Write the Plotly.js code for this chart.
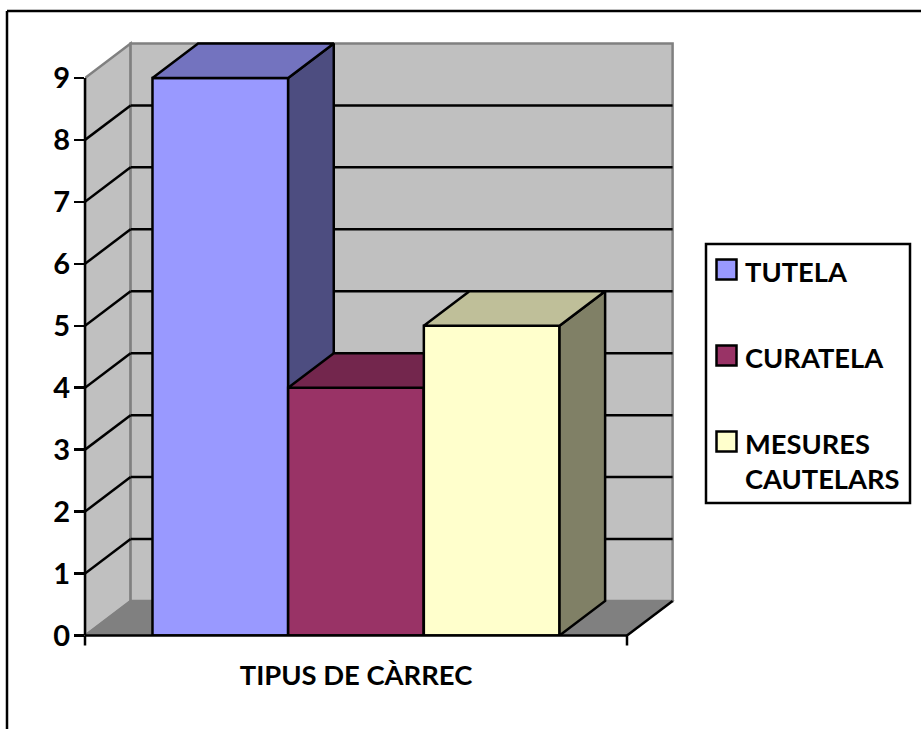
<!DOCTYPE html>
<html>
<head>
<meta charset="utf-8">
<script src="https://cdn.plot.ly/plotly-3.0.1.min.js"></script>
<style>html,body{margin:0;padding:0;background:#fff;overflow:hidden}</style>
</head>
<body>
<div id="chart" style="width:921px;height:729px"></div>
<script>
const categoryLabel = "TIPUS DE CÀRREC";
const seriesNames = ["TUTELA", "CURATELA", "MESURES<br>CAUTELARS"];
const seriesValues = [9, 4, 5];
const frontColors = ["#9999FF", "#993366", "#FFFFCC"];
const topColors = ["#7373BF", "#73264D", "#BFBF99"];
const sideColors = ["#4D4D80", "#4D1A33", "#808066"];
const yTicks = [0, 1, 2, 3, 4, 5, 6, 7, 8, 9];

const FONT = "Lato, Carlito, 'Open Sans', sans-serif";
const W = 921, H = 729;
const M = {l: 85, r: 241, t: 40, b: 93};
const plotW = W - M.l - M.r, plotH = H - M.t - M.b;
const unitX = 542, unitY = 61.95;           // pixels per x-unit / per y-unit
const dx = 45.6 / unitX, dy = 34.5 / unitY; // 3-D depth in data units
const gap = 0.1245, barW = (1 - 2 * gap) / seriesValues.length;
const yMax = yTicks[yTicks.length - 1];
const xRange = [0, plotW / unitX];
const yRange = [-0.5 / unitY, (plotH - 0.5) / unitY];

const px = x => (x - M.l) / plotW;
const py = y => (H - M.b - y) / plotH;
const dataX = x => (x - xRange[0]) / (xRange[1] - xRange[0]);
const dataY = y => (y - yRange[0]) / (yRange[1] - yRange[0]);
const poly = pts => "M" + pts.map(p => p[0] + "," + p[1]).join("L") + "Z";

const traces = [];
const layout = {
  width: W, height: H, margin: M, showlegend: false,
  paper_bgcolor: "#fff", plot_bgcolor: "rgba(0,0,0,0)",
  font: {family: FONT, color: "#000"},
  shapes: [], annotations: [],
  xaxis: {
    range: xRange, tickmode: "array", tickvals: [0.5], ticktext: [categoryLabel],
    ticks: "outside", ticklen: 15, tickcolor: "rgba(0,0,0,0)", showgrid: false, zeroline: false,
    showline: false, tickfont: {family: FONT, size: 27.4, weight: 700, color: "#000"}, fixedrange: true
  },
  yaxis: {
    range: yRange, tickmode: "array", tickvals: yTicks, ticktext: yTicks.map(String),
    ticks: "outside", ticklen: 10, tickwidth: 2.5, tickcolor: "#000", showgrid: false, zeroline: false,
    showline: false, ticklabelstandoff: -2,
    tickfont: {family: FONT, size: 29, weight: 700, color: "#000"}, fixedrange: true
  }
};

// walls and floor
const GREY = "#808080", BLACK = "#000";
const sh = (path, fill, color, width, layer) => layout.shapes.push({
  type: "path", xref: "x", yref: "y", path, fillcolor: fill || "rgba(0,0,0,0)",
  line: {color, width}, layer: layer || "below"
});
sh(poly([[0, 0], [dx, dy], [dx, yMax + dy], [0, yMax]]), "#C0C0C0", GREY, 2.5);
sh(poly([[dx, dy], [1 + dx, dy], [1 + dx, yMax + dy], [dx, yMax + dy]]), "#C0C0C0", GREY, 2.5);
sh(poly([[0, 0], [1, 0], [1 + dx, dy], [dx, dy]]), GREY, GREY, 1.5);
yTicks.slice(1, -1).forEach(k => {
  sh(`M0,${k}L${dx},${k + dy}`, null, BLACK, 2.5);
  sh(`M${dx},${k + dy}L${1 + dx},${k + dy}`, null, BLACK, 2.5);
});
sh(`M1,0L${1 + dx},${dy}`, null, BLACK, 2.5);

// bars, each in its own overlaid subplot so that nearer bars paint over farther ones
seriesValues.forEach((v, i) => {
  const n = i === 0 ? "" : String(i + 1);
  const xa = "x" + n, ya = "y" + n;
  if (i > 0) {
    const hidden = {visible: false, fixedrange: true};
    layout["xaxis" + n] = Object.assign({range: xRange, overlaying: "x"}, hidden);
    layout["yaxis" + n] = Object.assign({range: yRange, overlaying: "y"}, hidden);
  }
  const x0 = gap + i * barW, x1 = x0 + barW;
  traces.push({
    type: "bar", name: seriesNames[i].replace("<br>", " "), x: [x0 + barW / 2], y: [v], width: [barW],
    marker: {color: frontColors[i], line: {color: BLACK, width: 2.5}}, xaxis: xa, yaxis: ya,
    hoverinfo: "name+y"
  });
  const face = (pts, color) => traces.push({
    type: "scatter", mode: "lines", x: pts.map(p => p[0]), y: pts.map(p => p[1]),
    fill: "toself", fillcolor: color, line: {color: BLACK, width: 2.5}, xaxis: xa, yaxis: ya,
    hoverinfo: "skip"
  });
  face([[x1, 0], [x1 + dx, dy], [x1 + dx, v + dy], [x1, v], [x1, 0]], sideColors[i]);
  face([[x0, v], [x1, v], [x1 + dx, v + dy], [x0 + dx, v + dy], [x0, v]], topColors[i]);
});
layout.barmode = "overlay";

// page frame, front axis lines, x tick marks and legend (paper refs are not clipped to the plot)
const paperShape = (type, x0, y0, x1, y1, extra) => layout.shapes.push(Object.assign({
  type, xref: "paper", yref: "paper", x0, x1, y0, y1,
  line: {color: BLACK, width: 2.5}, layer: "above"
}, extra || {}));
const tickDrop = 10 / plotH;
paperShape("line", dataX(0), dataY(0), dataX(0), dataY(yMax));
paperShape("line", dataX(0), dataY(0), dataX(1), dataY(0));
paperShape("line", dataX(0), dataY(0), dataX(0), dataY(0) - tickDrop);
paperShape("line", dataX(1), dataY(0), dataX(1), dataY(0) - tickDrop);
paperShape("line", px(7), py(11), px(W + 5), py(11));
paperShape("line", px(7), py(11), px(7), py(H + 5));
paperShape("rect", px(706), py(244), px(910), py(503), {fillcolor: "#fff"});
const swatchTops = [259.5, 345.5, 431.5];
const labelCentres = [271, 357, 460.5];
seriesNames.forEach((name, i) => {
  paperShape("rect", px(716.5), py(swatchTops[i]), px(736.5), py(swatchTops[i] + 20), {fillcolor: frontColors[i]});
  layout.annotations.push({
    xref: "paper", yref: "paper", x: px(743), y: py(labelCentres[i]), xanchor: "left", yanchor: "middle",
    align: "left", showarrow: false, text: name,
    font: {family: FONT, size: 27.3, weight: 700, color: "#000"}
  });
});

Plotly.newPlot("chart", traces, layout, {displayModeBar: false, staticPlot: true});
</script>
</body>
</html>
